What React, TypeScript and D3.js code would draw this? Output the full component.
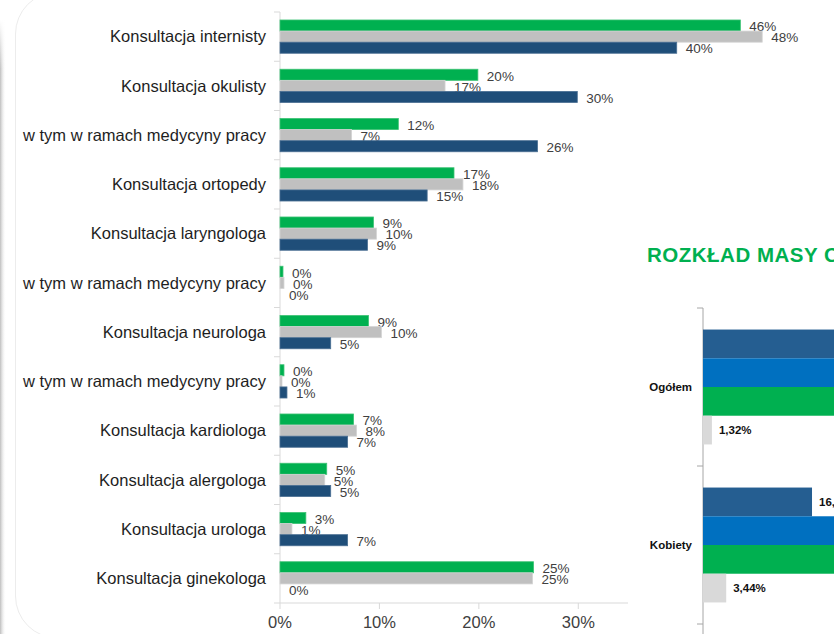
import React from 'react'
import * as d3 from 'd3'

const categories = [
  'Konsultacja internisty',
  'Konsultacja okulisty',
  'w tym w ramach medycyny pracy',
  'Konsultacja ortopedy',
  'Konsultacja laryngologa',
  'w tym w ramach medycyny pracy ',
  'Konsultacja neurologa',
  'w tym w ramach medycyny pracy  ',
  'Konsultacja kardiologa',
  'Konsultacja alergologa',
  'Konsultacja urologa',
  'Konsultacja ginekologa',
]
const greenValues = [46.3, 19.9, 11.9, 17.5, 9.4, 0.3, 8.9, 0.4, 7.4, 4.7, 2.6, 25.5]
const greyValues = [48.5, 16.6, 7.2, 18.4, 9.7, 0.4, 10.2, 0.2, 7.7, 4.5, 1.2, 25.4]
const blueValues = [39.9, 29.9, 25.9, 14.8, 8.8, 0, 5.1, 0.7, 6.8, 5.1, 6.8, 0]
const greenLabels = ['46%', '20%', '12%', '17%', '9%', '0%', '9%', '0%', '7%', '5%', '3%', '25%']
const greyLabels = ['48%', '17%', '7%', '18%', '10%', '0%', '10%', '0%', '8%', '5%', '1%', '25%']
const blueLabels = ['40%', '30%', '26%', '15%', '9%', '0%', '5%', '1%', '7%', '5%', '7%', '0%']
const xTicks = [0, 10, 20, 30]

// second (cut off) chart on the right
const massTitle = 'ROZKŁAD MASY CIAŁA'
const massCategories = ['Ogółem', 'Kobiety']
const massDarkBlue = [24.5, 16.15]
const massBlue = [45.2, 42.8]
const massGreen = [27.8, 36.6]
const massGrey = [1.32, 3.44]

const fmtPl = (v: number) => v.toFixed(2).replace('.', ',') + '%'

const series = [
  { key: 'green', values: greenValues, labels: greenLabels, color: '#00b050', stroke: '#3cc274' },
  { key: 'grey', values: greyValues, labels: greyLabels, color: '#c0c0c0', stroke: '#d4d4d4' },
  { key: 'blue', values: blueValues, labels: blueLabels, color: '#1f4e79', stroke: '#4a6f93' },
]

const massSeries = [
  { key: 'd', values: massDarkBlue, color: '#255e91' },
  { key: 'b', values: massBlue, color: '#0070c0' },
  { key: 'g', values: massGreen, color: '#00b050' },
  { key: 'l', values: massGrey, color: '#d9d9d9' },
]

export default function App() {
  const W = 834
  const H = 634
  const x = d3.scaleLinear().domain([0, 35]).range([280, 628])
  const y = d3.scaleBand().domain(categories).range([12, 603]).padding(0)
  const inner = d3.scaleBand().domain(series.map(s => s.key))
    .range([0, y.bandwidth()]).paddingInner(0).paddingOuter(0.72)

  const x2 = d3.scaleLinear().domain([0, 50]).range([703, 703 + 337.5])
  const y2 = d3.scaleBand().domain(massCategories).range([308, 624]).padding(0)
  const inner2 = d3.scaleBand().domain(massSeries.map(s => s.key))
    .range([0, y2.bandwidth()]).paddingInner(0).paddingOuter(0.75)

  const boundaries = d3.range(categories.length + 1).map(i => 12 + i * y.step())
  const boundaries2 = d3.range(massCategories.length + 1).map(i => 308 + i * y2.step())
  const font = 'Liberation Sans, Arial, sans-serif'

  return (
    <svg width={W} height={H} style={{ position: 'absolute', left: 0, top: 0, display: 'block', background: '#fff' }}
      fontFamily={font}>
      <defs>
        <linearGradient id="edge" x1="0" x2="1" y1="0" y2="0">
          <stop offset="0" stopColor="#bdbdbd" />
          <stop offset="1" stopColor="#ffffff" stopOpacity="0" />
        </linearGradient>
        <linearGradient id="edgeV" x1="0" x2="0" y1="0" y2="1">
          <stop offset="0" stopColor="#fff" stopOpacity="1" />
          <stop offset="0.08" stopColor="#fff" stopOpacity="0" />
        </linearGradient>
      </defs>
      <rect x={0} y={20} width={6} height={H - 20} fill="url(#edge)" />
      <rect x={0} y={20} width={6} height={H - 20} fill="url(#edgeV)" />
      <rect x={15.5} y={-8} width={1000} height={H + 12} rx={42} fill="none" stroke="#ececec" />

      {/* left chart axes */}
      <line x1={280} x2={280} y1={12} y2={603} stroke="#d9d9d9" />
      {boundaries.map((b, i) => (
        <line key={i} x1={274} x2={280} y1={b} y2={b} stroke="#d9d9d9" />
      ))}
      <line x1={280} x2={x(35)} y1={603} y2={603} stroke="#d9d9d9" />
      {xTicks.map(t => (
        <g key={t}>
          <line x1={x(t)} x2={x(t)} y1={603} y2={609} stroke="#d9d9d9" />
          <text x={x(t)} y={628} textAnchor="middle" fontSize={16.5} fill="#404040">{t}%</text>
        </g>
      ))}

      {categories.map((c, i) => (
        <text key={i} x={266} y={(y(c) ?? 0) + y.bandwidth() / 2} dy="0.35em" textAnchor="end"
          fontSize={16.5} fill="#1e1e1e">{c.trim()}</text>
      ))}

      {series.map(s => (
        <g key={s.key}>
          {s.values.map((v, i) => {
            const by = (y(categories[i]) ?? 0) + (inner(s.key) ?? 0)
            const w = x(v) - x(0)
            return (
              <g key={i}>
                {w > 0 && (
                  <rect x={x(0)} y={by} width={w} height={inner.bandwidth()}
                    fill={s.color} stroke={s.stroke} strokeWidth={0.8} />
                )}
                <text x={x(v) + 9} y={by + inner.bandwidth() / 2 + 1} dy="0.35em"
                  fontSize={13.5} fill="#404040">{s.labels[i]}</text>
              </g>
            )
          })}
        </g>
      ))}

      {/* right chart, cut off by the window */}
      <text x={647} y={262} fontSize={20.5} letterSpacing={0.5} fontWeight="bold" fill="#00b050">{massTitle}</text>
      <line x1={703} x2={703} y1={308} y2={H} stroke="#a6a6a6" />
      {boundaries2.map((b, i) => (
        <line key={i} x1={697} x2={703} y1={b} y2={b} stroke="#a6a6a6" />
      ))}
      {massCategories.map(c => (
        <text key={c} x={692} y={(y2(c) ?? 0) + y2.bandwidth() / 2} dy="0.35em" textAnchor="end"
          fontSize={11.5} fontWeight="bold" fill="#111">{c}</text>
      ))}
      {massSeries.map(s => (
        <g key={s.key}>
          {s.values.map((v, i) => {
            const by = (y2(massCategories[i]) ?? 0) + (inner2(s.key) ?? 0)
            return (
              <g key={i}>
                <rect x={x2(0)} y={by} width={x2(v) - x2(0)} height={inner2.bandwidth()} fill={s.color} />
                <text x={x2(v) + 7} y={by + inner2.bandwidth() / 2} dy="0.35em"
                  fontSize={11.5} fontWeight="bold" fill="#111">{fmtPl(v)}</text>
              </g>
            )
          })}
        </g>
      ))}
    </svg>
  )
}
